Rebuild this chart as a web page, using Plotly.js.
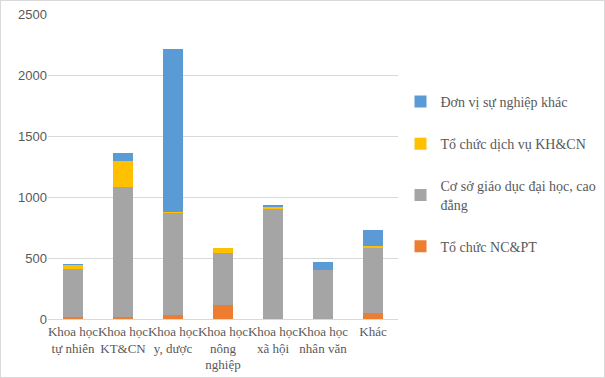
<!DOCTYPE html>
<html>
<head>
<meta charset="utf-8">
<script src="https://cdn.plot.ly/plotly-3.0.1.min.js"></script>
<style>
html,body{margin:0;padding:0;background:#fff;}
#wrap{position:relative;width:605px;height:378px;}
#chart{width:605px;height:378px;}
#frame{position:absolute;left:0;top:0;width:603px;height:376px;border:1px solid #d9d9d9;pointer-events:none;}
</style>
</head>
<body>
<div id="wrap"><div id="chart"></div><div id="frame"></div></div>
<script>
const categories = ["Khoa học<br>tự nhiên", "Khoa học<br>KT&CN", "Khoa học<br>y, dược", "Khoa học<br>nông<br>nghiệp", "Khoa học<br>xã hội", "Khoa học<br>nhân văn", "Khác"];
const seriesNames = ["Tổ chức NC&PT", "Cơ sở giáo dục đại học, cao<br>đẳng", "Tổ chức dịch vụ KH&CN", "Đơn vị sự nghiệp khác"];
const ncpt   = [18, 13, 30, 117, 2, 0, 46];
const csgd   = [389, 1072, 836, 427, 903, 404, 539];
const dichvu = [36, 213, 8, 35, 16, 0, 16];
const khac   = [10, 66, 1342, 6, 16, 66, 131];
const colors = ["#ED7D31", "#A5A5A5", "#FFC000", "#5B9BD5"];
const yTicks = [0, 500, 1000, 1500, 2000, 2500];

const values = [ncpt, csgd, dichvu, khac];
const traces = values.map((v, i) => ({
  type: "bar",
  x: categories,
  y: v,
  name: seriesNames[i],
  legendgroup: "g" + i,
  legendrank: 10 - i,
  marker: {color: colors[i], line: {width: 0}},
  hoverinfo: "x+y+name"
}));

const layout = {
  width: 605, height: 378,
  margin: {l: 48, r: 207, t: 14, b: 59},
  barmode: "stack",
  bargap: 0.6,
  paper_bgcolor: "#fff",
  plot_bgcolor: "#fff",
  showlegend: true,
  legend: {
    xref: "container", yref: "container",
    x: 0.662, xanchor: "left", y: 0.54, yanchor: "middle",
    traceorder: "grouped",
    tracegroupgap: 21,
    font: {family: "Liberation Serif, serif", size: 14, color: "#595959"},
    itemwidth: 30
  },
  xaxis: {
    type: "category",
    showgrid: false,
    showline: true, linecolor: "#d9d9d9", linewidth: 1,
    ticks: "",
    tickangle: 0,
    tickfont: {family: "Liberation Serif, serif", size: 13, color: "#595959"},
    automargin: false
  },
  yaxis: {
    range: [0, 2500],
    tickvals: yTicks,
    ticktext: yTicks.map(String),
    showgrid: true, gridcolor: "#d9d9d9", gridwidth: 1,
    zeroline: false,
    showline: false,
    ticks: "",
    tickfont: {family: "Liberation Sans, sans-serif", size: 13, color: "#595959"},
    automargin: false
  }
};

Plotly.newPlot("chart", traces, layout, {displayModeBar: false, staticPlot: true});
</script>
</body>
</html>
